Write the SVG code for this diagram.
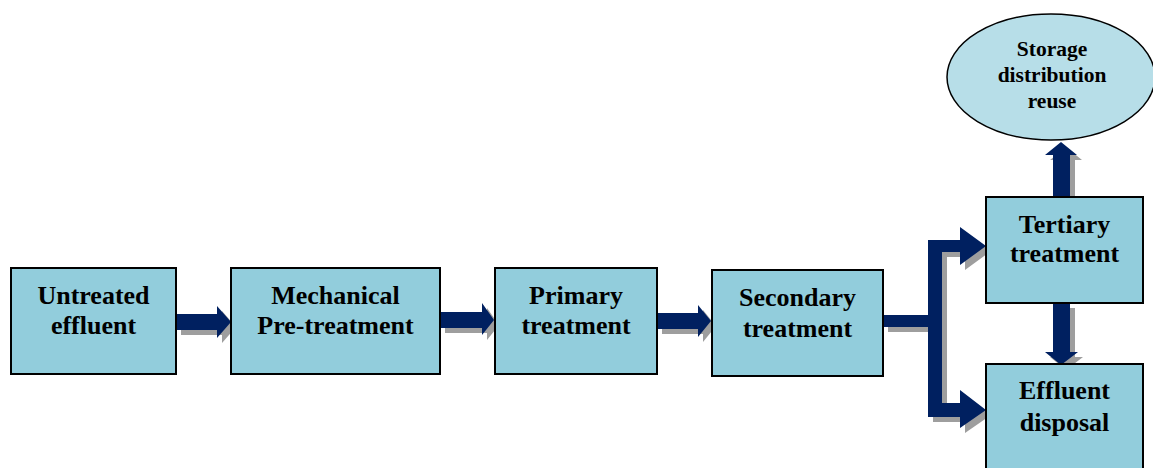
<svg xmlns="http://www.w3.org/2000/svg" width="1153" height="468" viewBox="0 0 1153 468">
<style>
.box{fill:#92CDDC;stroke:#000;stroke-width:2}
.ell{fill:#B7DEE8;stroke:#000;stroke-width:1.5}
.t{font-family:"Liberation Serif","Times New Roman",serif;font-weight:bold;font-size:26px;fill:#000;text-anchor:middle}
.ts{font-family:"Liberation Serif","Times New Roman",serif;font-weight:bold;font-size:21.5px;fill:#000;text-anchor:middle}
.arr{fill:#002060}
.sh{fill:#9E9E9E}
</style>
<defs>
<g id="arrows">
<polygon points="176,314 217,314 217,306 231,322 217,338 217,330 176,330"/>
<polygon points="440,312 482,312 482,303 494,320 482,335 482,328 440,328"/>
<polygon points="657,313 698,313 698,305 711,321 698,337 698,329 657,329"/>
<polygon points="883,315 928,315 928,240 960,240 960,227 986,246 960,265 960,252 942,252 942,403 960,403 960,390 986,410 960,428 960,417 928,417 928,327 883,327"/>
<polygon points="1053,303 1070,303 1070,352 1078,352 1061,365 1045,352 1053,352"/>
<polygon points="1053,197 1053,155 1045,155 1061,142 1077,155 1070,155 1070,197"/>
</g>
</defs>
<g id="connectors">
<use href="#arrows" class="sh" transform="translate(5,5)"/>
<use href="#arrows" class="arr"/>
</g>
<g id="n1"><rect class="box" x="11" y="268" width="165" height="106"/><text class="t" x="93.5" y="304">Untreated</text><text class="t" x="93.5" y="334">effluent</text></g>
<g id="n2"><rect class="box" x="231" y="268" width="209" height="106"/><text class="t" x="335.5" y="304">Mechanical</text><text class="t" x="335.5" y="334">Pre-treatment</text></g>
<g id="n3"><rect class="box" x="495" y="268" width="162" height="106"/><text class="t" x="576" y="304">Primary</text><text class="t" x="576" y="334">treatment</text></g>
<g id="n4"><rect class="box" x="712" y="270" width="171" height="106"/><text class="t" x="797.5" y="306">Secondary</text><text class="t" x="797.5" y="337">treatment</text></g>
<g id="n5"><rect class="box" x="986" y="197" width="157" height="106"/><text class="t" x="1064.5" y="233">Tertiary</text><text class="t" x="1064.5" y="262">treatment</text></g>
<g id="n6"><rect class="box" x="986" y="364" width="157" height="110"/><text class="t" x="1064.5" y="399">Effluent</text><text class="t" x="1064.5" y="431">disposal</text></g>
<g id="n7"><ellipse class="ell" cx="1051" cy="77" rx="104" ry="63"/><text class="ts" x="1052" y="56">Storage</text><text class="ts" x="1052" y="82">distribution</text><text class="ts" x="1052" y="108">reuse</text></g>
</svg>
